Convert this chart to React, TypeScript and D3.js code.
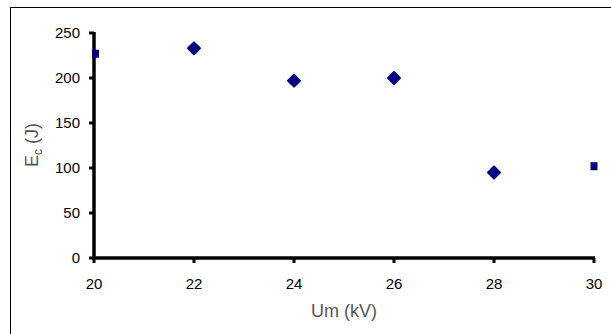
import React from "react";
import * as d3 from "d3";

const diamondX = [22, 24, 26, 28];
const diamondY = [233, 197, 200, 95];
const squareX = [20, 30];
const squareY = [227, 102];
const xTicks = [20, 22, 24, 26, 28, 30];
const yTicks = [0, 50, 100, 150, 200, 250];

export default function App() {
  const W = 611, H = 334;
  const x = d3.scaleLinear().domain([20, 30]).range([94, 594]);
  const y = d3.scaleLinear().domain([0, 250]).range([258, 33]);
  const diamond = d3.symbol().type(d3.symbolDiamond2).size(90)();
  const font = "'Liberation Sans', Arial, sans-serif";
  return (
    <svg width={W} height={H} style={{ position: "absolute", left: 0, top: 0 }}>
      <rect x={0} y={0} width={W} height={H} fill="#fff" />
      <rect x={10.5} y={7.5} width={700} height={400} fill="none" stroke="#000" strokeWidth={1} />
      {yTicks.map((t) => (
        <g key={"y" + t}>
          <line x1={x(20) - 5} x2={x(20)} y1={y(t)} y2={y(t)} stroke="#000" strokeWidth={3} />
          <text x={80} y={y(t)} dy="0.35em" textAnchor="end" fontFamily={font} fontSize={15} fill="#000">{t}</text>
        </g>
      ))}
      {xTicks.map((t) => (
        <g key={"x" + t}>
          <line x1={x(t)} x2={x(t)} y1={y(0)} y2={y(0) + 5} stroke="#000" strokeWidth={3} />
          <text x={x(t)} y={284} dy="0.35em" textAnchor="middle" fontFamily={font} fontSize={15} fill="#000">{t}</text>
        </g>
      ))}
      <line x1={x(20)} x2={x(20)} y1={y(250) - 1} y2={y(0) + 1.5} stroke="#000" strokeWidth={3.5} />
      <line x1={x(20) - 1.5} x2={x(30) + 1} y1={y(0)} y2={y(0)} stroke="#000" strokeWidth={3.5} />
      {diamondX.map((v, i) => (
        <path key={"d" + v} d={diamond} transform={`translate(${x(v)},${y(diamondY[i])})`}
          fill="#000080" stroke="#000080" strokeWidth={2} strokeLinejoin="round" />
      ))}
      {squareX.map((v, i) => (
        <rect key={"s" + v} x={x(v) - 3.5 + (i === 0 ? 1.5 : 0)} y={y(squareY[i]) - 4} width={7} height={8} fill="#000080" />
      ))}
      <text x={x(25)} y={311} dy="0.35em" textAnchor="middle" fontFamily={font} fontSize={18} fill="#555">Um (kV)</text>
      <text transform={`translate(38,145) rotate(-90)`} textAnchor="middle" fontFamily={font} fontSize={18} fill="#555">
        E<tspan fontSize={12} dy="4">c</tspan><tspan dy="-4"> (J)</tspan>
      </text>
    </svg>
  );
}
